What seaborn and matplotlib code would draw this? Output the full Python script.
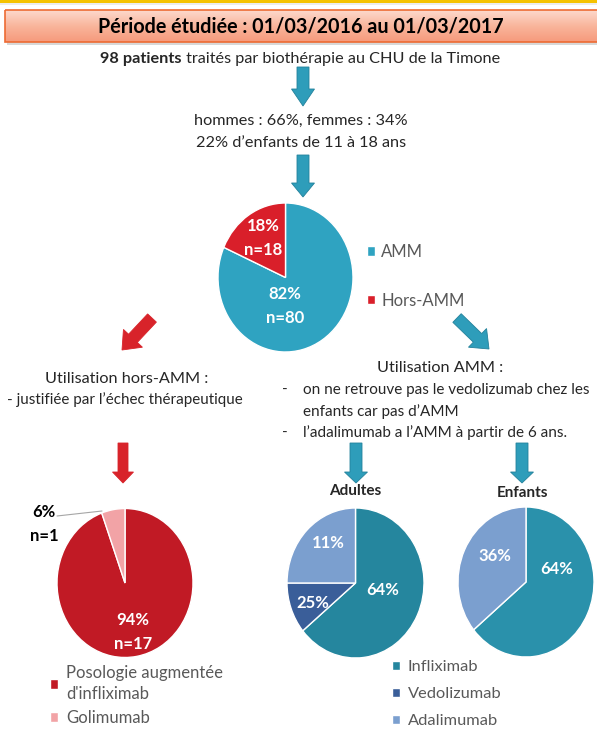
import numpy as np
import matplotlib
matplotlib.use("Agg")
import matplotlib.pyplot as plt
import seaborn as sns
from matplotlib.patches import FancyArrow, Rectangle
from matplotlib.colors import LinearSegmentedColormap

global_labels = ["AMM", "Hors-AMM"]
global_n = [80, 18]
global_txt = ["82%\nn=80", "18%\nn=18"]

hors_labels = ["Posologie augmentée\nd'infliximab", "Golimumab"]
hors_n = [17, 1]
hors_txt = ["94%\nn=17", "6%\nn=1"]

amm_labels = ["Infliximab", "Vedolizumab", "Adalimumab"]
adultes_vals = [64, 11, 25]
adultes_txt = ["64%", "25%", "11%"]  # tels qu'imprimés sur le poster
enfants_vals = [64, 36]
enfants_txt = ["64%", "36%"]

W, H = 597, 729
teal = "#2e9dba"
red = "#d8232a"
FS = 11.7

sns.set_theme(style="white")
plt.rcParams["font.family"] = ["Lato", "DejaVu Sans"]

fig = plt.figure(figsize=(W / 100, H / 100), dpi=100)
fig.patch.set_facecolor("white")
bg = fig.add_axes([0, 0, 1, 1])
bg.set_zorder(5)
bg.patch.set_visible(False)
bg.set_xlim(0, W)
bg.set_ylim(H, 0)
bg.axis("off")

# bandeau du haut
bg.add_patch(Rectangle((0, 0), W, 3, color="#f5c200", lw=0))
bg.add_patch(Rectangle((0, 3), W, 2, color="#ececec", lw=0))
bg.add_patch(Rectangle((7, 12), W, 33, color="#c8c8c8", lw=0, alpha=0.7))
grad = LinearSegmentedColormap.from_list("titre", ["#fdd9cc", "#f9b59c", "#f69a7c"])
bg.imshow(np.linspace(0, 1, 64).reshape(-1, 1), cmap=grad, aspect="auto",
          extent=(5, W + 2, 42, 10), zorder=1)
bg.add_patch(Rectangle((5, 10), W, 32, fill=False, ec="#ed6b33", lw=1.2, zorder=2))
bg.set_xlim(0, W)
bg.set_ylim(H, 0)
bg.text(301, 26, "Période étudiée : 01/03/2016 au 01/03/2017", ha="center", va="center",
        fontsize=14.2, fontweight="bold", color="black", zorder=3)

t1 = bg.text(100, 66, "98 patients", ha="left", va="bottom", fontsize=FS, fontweight="bold")
bg.annotate(" traités par biothérapie au CHU de la Timone", xy=(1, 0), xycoords=t1,
            ha="left", va="bottom", fontsize=FS)
bg.text(301, 121, "hommes : 66%, femmes : 34%", ha="center", va="center", fontsize=FS)
bg.text(301, 143, "22% d’enfants de 11 à 18 ans", ha="center", va="center", fontsize=FS)


def arrow(x0, y0, x1, y1, color, w=12, hw=23, hl=12, ec=None):
    bg.add_patch(FancyArrow(x0, y0, x1 - x0, y1 - y0, width=w, head_width=hw, head_length=hl,
                            length_includes_head=True, fc=color, ec=ec or color, lw=0.6))


arrow(303, 67, 303, 106, teal, w=12, hw=23, hl=17, ec="#23819b")
arrow(303, 155, 303, 197, teal, w=12, hw=23, hl=14, ec="#23819b")
arrow(152, 318, 122, 350, red, w=12, hw=26, hl=16)
arrow(457, 318, 489, 349, teal, w=12, hw=26, hl=16, ec="#23819b")
arrow(123, 443, 123, 483, red, w=10, hw=21, hl=11)
arrow(356, 443, 356, 483, teal, w=12, hw=23, hl=11, ec="#23819b")
arrow(522, 443, 522, 483, teal, w=12, hw=23, hl=11, ec="#23819b")

bg.text(127, 379, "Utilisation hors-AMM :", ha="center", va="center", fontsize=FS)
bg.text(125, 400, "- justifiée par l’échec thérapeutique", ha="center", va="center",
        fontsize=10.9)
bg.text(440, 368, "Utilisation AMM :", ha="center", va="center", fontsize=FS)
puces = ["on ne retrouve pas le vedolizumab chez les", "enfants car pas d’AMM",
         "l’adalimumab a l’AMM à partir de 6 ans."]
for k, (yy, s) in enumerate(zip([390, 412, 433], puces)):
    if k != 1:
        bg.text(285, yy, "-", ha="center", va="center", fontsize=11)
    bg.text(303, yy, s, ha="left", va="center", fontsize=11)

bg.text(355, 491, "Adultes", ha="center", va="center", fontsize=11, fontweight="bold")
bg.text(523, 493, "Enfants", ha="center", va="center", fontsize=11, fontweight="bold")


def pie_axes(cx, cy, rx, ry, values, colors):
    ax = fig.add_axes([(cx - rx) / W, 1 - (cy + ry) / H, 2 * rx / W, 2 * ry / H])
    ax.set_zorder(1)
    wedges, _ = ax.pie(values, colors=colors, startangle=90, counterclock=False,
                       wedgeprops=dict(edgecolor="white", linewidth=1))
    for wd in wedges:
        wd.set_clip_on(False)
    ax.set_aspect("auto")
    ax.set_xlim(-1, 1)
    ax.set_ylim(-1, 1)
    ax.axis("off")
    return wedges


lab = dict(ha="center", va="center", fontsize=12, fontweight="bold", color="white",
           linespacing=1.6)
leg_kw = dict(loc="upper left", bbox_transform=bg.transData, frameon=False,
              labelcolor="#595959", handlelength=0.5, handleheight=0.5,
              borderpad=0, borderaxespad=0)

# camembert global
w_glob = pie_axes(285.5, 277.5, 67.5, 74.5, global_n, ["#2fa3c1", "#d91f2a"])
bg.text(285, 306, global_txt[0], **lab)
bg.text(263, 238, global_txt[1], **lab)

# hors AMM
w_hors = pie_axes(125, 583, 68, 74.5, hors_n, ["#c11a25", "#f2a3a6"])
bg.text(133, 632, hors_txt[0], **lab)
bg.text(44, 524, hors_txt[1], **{**lab, "color": "black"})
bg.plot([57, 102], [516, 511], color="#a6a6a6", lw=0.8)
leg_h = bg.legend(w_hors, hors_labels, bbox_to_anchor=(50, 665), fontsize=12,
                  handletextpad=0.45, labelspacing=0.45, **leg_kw)
for t in leg_h.get_texts():
    t.set_linespacing(1.4)
bg.add_artist(leg_h)

# adultes / enfants
c_amm = ["#25869e", "#3a5e99", "#7b9fcf"]
w_ad = pie_axes(355.5, 583, 68.5, 75, adultes_vals, c_amm)
bg.text(383, 590, adultes_txt[0], **lab)
bg.text(313, 603, adultes_txt[1], **lab)
bg.text(328, 543, adultes_txt[2], **lab)
w_en = pie_axes(526, 582, 68, 75, enfants_vals, ["#2a91ab", "#7b9fcf"])
bg.text(557, 569, enfants_txt[0], **lab)
bg.text(495, 556, enfants_txt[1], **lab)
leg_a = bg.legend(w_ad, amm_labels, bbox_to_anchor=(392, 660), fontsize=11.8,
                  handletextpad=0.45, labelspacing=0.8, **leg_kw)
bg.add_artist(leg_a)
bg.legend(w_glob, global_labels, bbox_to_anchor=(367, 244), fontsize=12,
          handletextpad=0.35, labelspacing=1.95, **leg_kw)

fig.savefig("out.png", dpi=100)
